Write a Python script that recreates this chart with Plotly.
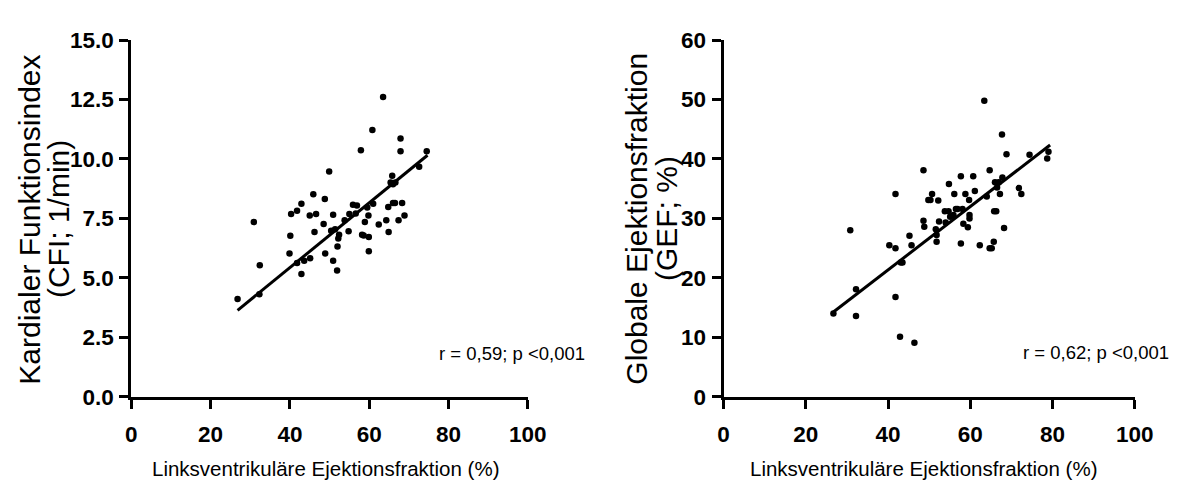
import plotly.graph_objects as go

# ---- Left panel: LVEF vs CFI ----
lvef_a = [26.8, 30.9, 32.4, 32.3, 39.9, 40.3, 40.1, 41.8, 41.8, 42.9, 42.9, 43.6,
          45.0, 45.1, 45.9, 46.2, 46.6, 48.5, 48.8, 48.9, 49.9, 50.9, 50.9, 50.4,
          51.4, 51.9, 52.0, 52.2, 52.4, 53.8, 54.8, 55.0, 55.9, 56.6, 56.9, 57.9,
          58.2, 58.6, 58.9, 59.5, 59.8, 59.9, 59.9, 60.8, 61.0, 62.4, 63.5, 64.3,
          64.8, 64.9, 65.4, 65.8, 66.0, 66.0, 66.5, 66.6, 67.4, 67.9, 67.9, 68.3,
          68.9, 72.6, 74.5]
cfi = [4.11, 7.35, 5.53, 4.31, 6.03, 7.69, 6.77, 7.82, 5.63, 8.12, 5.17, 5.72,
       7.62, 5.83, 8.52, 6.93, 7.69, 7.27, 8.32, 6.03, 9.47, 7.66, 5.72, 6.98,
       7.05, 5.31, 6.32, 6.66, 6.82, 7.42, 6.96, 7.69, 8.08, 7.71, 8.04, 10.37,
       6.82, 6.78, 7.35, 7.96, 7.62, 6.72, 6.12, 11.22, 8.12, 7.25, 12.60, 7.42,
       7.98, 6.93, 9.01, 9.30, 8.94, 8.15, 8.15, 9.01, 7.42, 10.86, 10.32, 8.15,
       7.62, 9.67, 10.32]
fit_a_x = [26.8, 74.7]
fit_a_slope = 0.1361
fit_a_intercept = -0.01

# ---- Right panel: LVEF vs GEF ----
lvef_b = [26.7, 30.8, 32.2, 32.2, 40.3, 41.8, 41.8, 41.8, 42.9, 43.1, 43.5, 45.2,
          45.7, 46.4, 48.6, 48.6, 48.8, 49.8, 50.3, 50.7, 51.6, 51.8, 51.8, 52.2,
          52.4, 53.8, 54.0, 54.8, 54.7, 55.1, 55.9, 56.1, 56.5, 56.9, 57.7, 57.7,
          58.1, 58.3, 58.8, 59.4, 59.7, 59.8, 59.8, 60.7, 61.1, 62.3, 63.4, 64.0,
          64.7, 64.7, 65.2, 65.7, 65.8, 66.3, 66.0, 66.5, 66.9, 67.2, 67.7, 67.8,
          68.2, 68.8, 71.8, 72.4, 74.4, 78.7, 79.0]
gef = [14.0, 28.0, 18.1, 13.6, 25.5, 34.1, 25.0, 16.8, 10.1, 22.6, 22.6, 27.1,
       25.5, 9.1, 29.6, 38.1, 28.6, 33.1, 33.1, 34.1, 28.2, 26.1, 27.2, 33.0,
       29.5, 31.2, 29.3, 35.8, 31.2, 30.3, 30.6, 34.1, 31.6, 31.6, 37.1, 25.8,
       31.6, 29.1, 34.1, 28.5, 33.1, 30.6, 30.0, 37.1, 34.6, 25.5, 49.8, 33.7,
       38.1, 25.0, 25.0, 26.1, 31.2, 31.2, 36.1, 35.2, 36.1, 34.1, 44.1, 36.9,
       28.4, 40.8, 35.1, 34.1, 40.7, 40.1, 41.2]
fit_b_x = [26.7, 79.4]
fit_b_slope = 0.533
fit_b_intercept = 0.03

x_ticks = [0, 20, 40, 60, 80, 100]
cfi_ticks = [0.0, 2.5, 5.0, 7.5, 10.0, 12.5, 15.0]
gef_ticks = [0, 10, 20, 30, 40, 50, 60]

x_title = "Linksventrikuläre Ejektionsfraktion (%)"
y_title_a = ["Kardialer Funktionsindex", "(CFI; 1/min)"]
y_title_b = ["Globale Ejektionsfraktion", "(GEF; %)"]
stat_a = "r = 0,59; p <0,001"
stat_b = "r = 0,62; p <0,001"

W, H = 1191, 503
def px_x(p):
    return p / W
def px_y(p):
    return (H - p) / H

fig = go.Figure()

marker = dict(color="black", size=6.5, line=dict(width=0))
fig.add_trace(go.Scatter(x=lvef_a, y=cfi, mode="markers", marker=marker,
                         xaxis="x", yaxis="y", showlegend=False))
fig.add_trace(go.Scatter(x=fit_a_x, y=[fit_a_intercept + fit_a_slope * v for v in fit_a_x],
                         mode="lines", line=dict(color="black", width=3),
                         xaxis="x", yaxis="y", showlegend=False))
fig.add_trace(go.Scatter(x=lvef_b, y=gef, mode="markers", marker=marker,
                         xaxis="x2", yaxis="y2", showlegend=False))
fig.add_trace(go.Scatter(x=fit_b_x, y=[fit_b_intercept + fit_b_slope * v for v in fit_b_x],
                         mode="lines", line=dict(color="black", width=3),
                         xaxis="x2", yaxis="y2", showlegend=False))

tickfont = dict(family="Liberation Sans, Arial, sans-serif", size=22.5,
                color="black", weight="bold")
common = dict(showgrid=False, zeroline=False, showline=True, linecolor="black",
              linewidth=3, ticks="outside", ticklen=9, tickwidth=3, tickcolor="black",
              tickfont=tickfont)

ydom = [px_y(405), px_y(29.5)]
fig.update_layout(
    width=W, height=H, margin=dict(l=0, r=0, t=0, b=0),
    paper_bgcolor="white", plot_bgcolor="white",
    xaxis=dict(domain=[px_x(128), px_x(533)], range=[0, 100], tickvals=x_ticks,
               anchor="y", ticklabelstandoff=6, **common),
    yaxis=dict(domain=ydom, range=[0, 15], tickvals=cfi_ticks, tickformat=".1f",
               anchor="x", ticklabelstandoff=1, **common),
    xaxis2=dict(domain=[px_x(733), px_x(1153)], range=[0, 100], tickvals=x_ticks,
                anchor="y2", ticklabelstandoff=6, **common),
    yaxis2=dict(domain=ydom, range=[0, 60], tickvals=gef_ticks,
                anchor="x2", ticklabelstandoff=1, **common),
)

title_font = dict(family="Liberation Sans, Arial, sans-serif", size=20.5, color="black")
ytitle_font = dict(family="Liberation Sans, Arial, sans-serif", size=30, color="black")
stat_font = dict(family="Liberation Sans, Arial, sans-serif", size=18.5, color="black")

ann = []
ann.append(dict(text=x_title, x=px_x(327), y=px_y(480), xref="paper", yref="paper",
                showarrow=False, xanchor="center", yanchor="middle", font=title_font))
ann.append(dict(text=x_title, x=px_x(938), y=px_y(480), xref="paper", yref="paper",
                showarrow=False, xanchor="center", yanchor="middle", font=title_font))
for txt, xc in zip(y_title_a, [24, 53]):
    ann.append(dict(text=txt, x=px_x(xc), y=px_y(218), xref="paper", yref="paper",
                    showarrow=False, textangle=-90, xanchor="center", yanchor="middle",
                    font=ytitle_font))
for txt, xc in zip(y_title_b, [644, 674]):
    ann.append(dict(text=txt, x=px_x(xc), y=px_y(217), xref="paper", yref="paper",
                    showarrow=False, textangle=-90, xanchor="center", yanchor="middle",
                    font=ytitle_font))
ann.append(dict(text=stat_a, x=px_x(440), y=px_y(359), xref="paper", yref="paper",
                showarrow=False, xanchor="left", yanchor="middle", font=stat_font))
ann.append(dict(text=stat_b, x=px_x(1037), y=px_y(358), xref="paper", yref="paper",
                showarrow=False, xanchor="left", yanchor="middle", font=stat_font))
fig.update_layout(annotations=ann)

fig.write_html("out.html", config={"displayModeBar": False},
               post_script="document.body.style.margin='0px';")
